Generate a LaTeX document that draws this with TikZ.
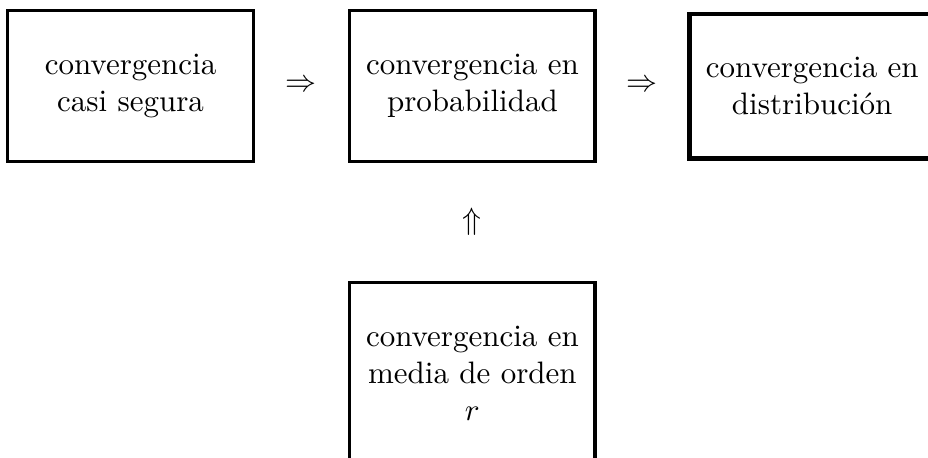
\documentclass[tikz,border=0pt]{standalone}
\usepackage{tikz}
\usetikzlibrary{positioning}
\tikzset{
    node distance=1.1cm and 1.1cm,
    % --- caja de modo de convergencia ---
    convBox/.style={
        rectangle, draw=black, line width=1pt,
        align=center,
        minimum width=2.78cm, minimum height=1.72cm
    },
    % --- simbolo de implicacion ---
    implSym/.style={
        inner sep=0pt, midway
    }
}

\begin{document}
\begin{tikzpicture}

	% marco de la figura
	\useasboundingbox (0,0) rectangle (10.52,-5.19);

	% --- Fila superior ---
	\node [convBox] (cs) at (1.48,-0.975) {convergencia\\casi segura};
	\node [convBox, right=1.06cm of cs] (cp) {convergencia en\\probabilidad};
	\node [convBox, line width=1.4pt, minimum height=1.64cm, right=1.03cm of cp] (cd) {convergencia en\\distribuci\'on};

	% --- Fila inferior ---
	\node [convBox, minimum height=2.06cm, below=1.33cm of cp] (cr) {convergencia en\\media de orden\\$r$};

	% --- Implicaciones ---
	\path (cs) -- (cp) node [implSym] (i1) {$\Rightarrow$};
	\path (cp) -- (cd) node [implSym] (i2) {$\Rightarrow$};
	\path (cr) -- (cp) node [implSym] (i3) {$\Uparrow$};

\end{tikzpicture}
\end{document}
